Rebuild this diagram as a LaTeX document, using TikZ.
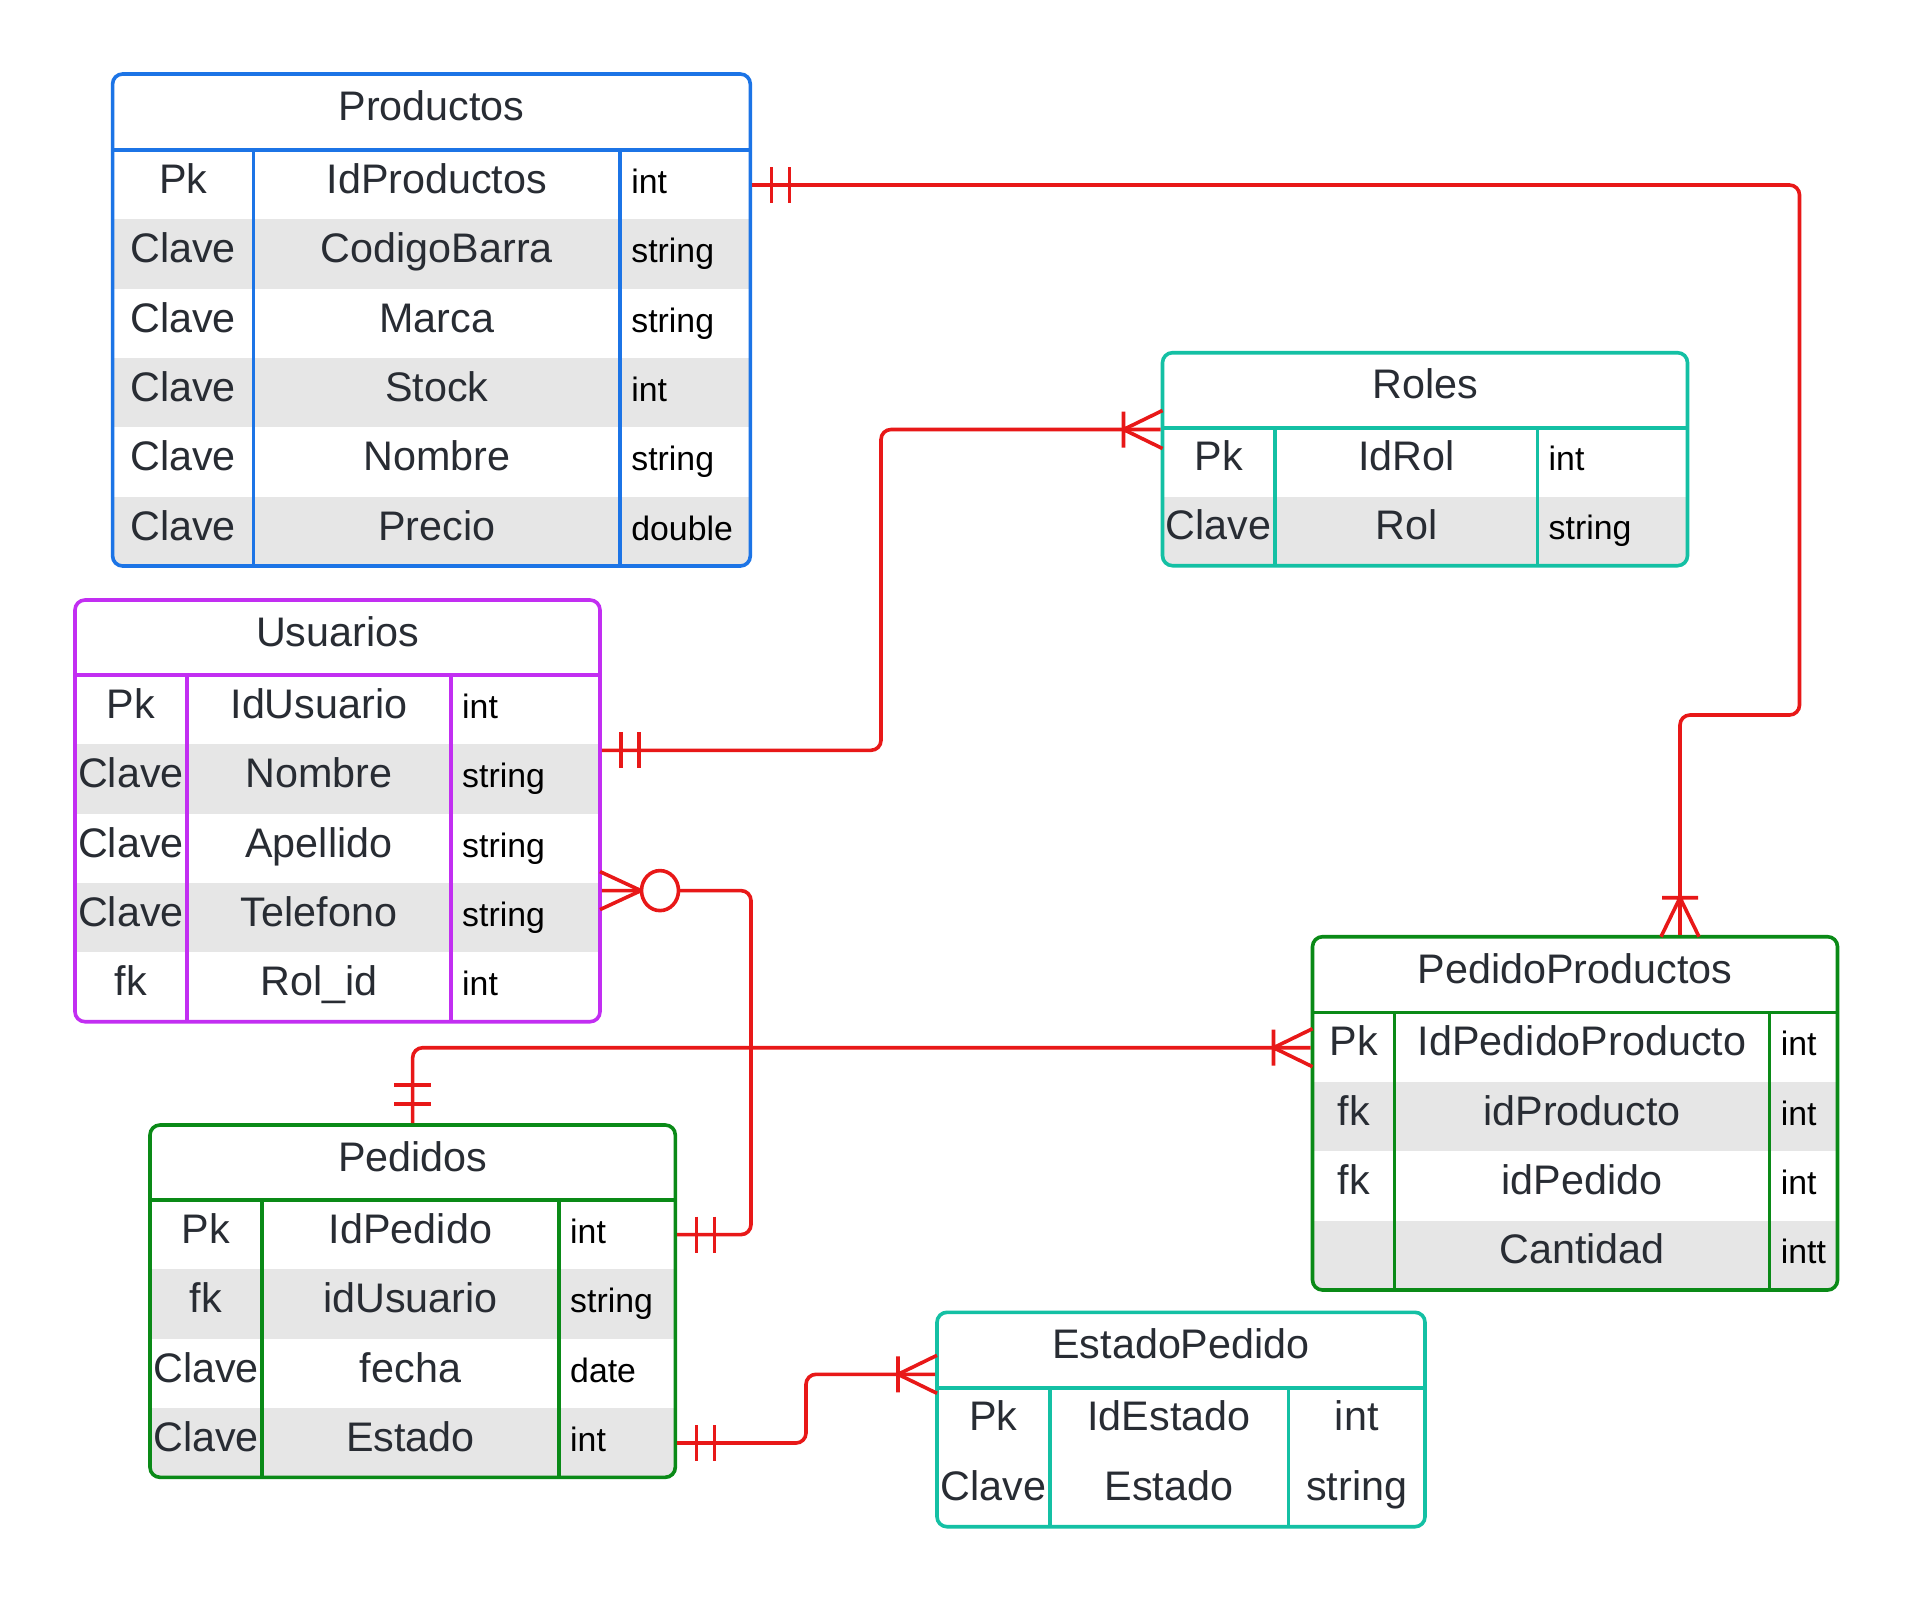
\documentclass[tikz,border=0pt]{standalone}
\usepackage{fontspec}
\setmainfont{Liberation Sans}
\usetikzlibrary{calc,fit}
\definecolor{cblue}{HTML}{1C74E6}
\definecolor{cteal}{HTML}{14C0A4}
\definecolor{cpurple}{HTML}{C22EF2}
\definecolor{cgreen}{HTML}{0A8A17}
\definecolor{cred}{HTML}{E81818}
\definecolor{rowgrey}{HTML}{E6E6E6}
\definecolor{txtgrey}{HTML}{282C33}
\tikzset{
  erbox/.style={draw=#1, line width=3.6pt, rounded corners=10pt, inner sep=0pt},
  erline/.style={draw=#1, line width=3.6pt},
  celltxt/.style={anchor=base, inner sep=0pt, text=txtgrey, font=\fontsize{41.3}{48}\selectfont},
  typetxt/.style={anchor=base west, inner sep=0pt, text=black, font=\fontsize{33.8}{40}\selectfont},
  rel/.style={draw=cred, line width=3.6pt, rounded corners=10pt},
  relmark/.style={draw=cred, line width=3.6pt},
}
\begin{document}
\begin{tikzpicture}[x=1pt,y=-1pt]
\useasboundingbox (0,0) rectangle (1913,1601);
\fill[white] (0,0) rectangle (1913,1601);

% ---------------- Productos
\begin{scope}
\clip[rounded corners=10pt] (112.6,74) rectangle (750.3,566);
\foreach \r in {2,4,6} \fill[rowgrey] (112.6,{150+(\r-1)*69.33}) rectangle (750.3,{150+\r*69.33});
\end{scope}
\draw[erline=cblue] (112.6,150) -- (750.3,150) (253.6,150) -- (253.6,566) (620.2,150) -- (620.2,566);
\node[erbox=cblue, fit={(112.6,74) (750.3,566)}] (prod) {};
\node[celltxt] (prod-title) at (431.5,120.7) {Productos};
\foreach \k/\n/\t [count=\i] in {Pk/IdProductos/int, Clave/CodigoBarra/string, Clave/Marca/string, Clave/Stock/int, Clave/Nombre/string, Clave/Precio/double}{
  \pgfmathsetmacro\yb{150+(\i-0.5)*69.33+8.7}
  \node[celltxt] (prod-k\i) at (183.1,\yb) {\k};
  \node[celltxt] (prod-n\i) at (436.9,\yb) {\n};
  \node[typetxt] (prod-y\i) at (631.2,\yb) {\t};
}

% ---------------- Roles
\begin{scope}
\clip[rounded corners=10pt] (1162.5,352.7) rectangle (1687.5,565.7);
\fill[rowgrey] (1162.5,496.7) rectangle (1687.5,565.7);
\end{scope}
\draw[erline=cteal] (1162.5,427.7) -- (1687.5,427.7) (1275,427.7) -- (1275,565.7) (1537.5,427.7) -- (1537.5,565.7);
\node[erbox=cteal, fit={(1162.5,352.7) (1687.5,565.7)}] (roles) {};
\node[celltxt] (roles-title) at (1425,398.9) {Roles};
\foreach \k/\n/\t [count=\i] in {Pk/IdRol/int, Clave/Rol/string}{
  \pgfmathsetmacro\yb{427.7+(\i-0.5)*69+8.7}
  \node[celltxt] (roles-k\i) at (1218.75,\yb) {\k};
  \node[celltxt] (roles-n\i) at (1406.25,\yb) {\n};
  \node[typetxt] (roles-y\i) at (1548.5,\yb) {\t};
}

% ---------------- Usuarios
\begin{scope}
\clip[rounded corners=10pt] (75,600) rectangle (600,1021.7);
\foreach \r in {2,4} \fill[rowgrey] (75,{675+(\r-1)*69.33}) rectangle (600,{675+\r*69.33});
\end{scope}
\draw[erline=cpurple] (75,675) -- (600,675) (186.8,675) -- (186.8,1021.7) (451,675) -- (451,1021.7);
\node[erbox=cpurple, fit={(75,600) (600,1021.7)}] (usu) {};
\node[celltxt] (usu-title) at (337.5,646.2) {Usuarios};
\foreach \k/\n/\t [count=\i] in {Pk/IdUsuario/int, Clave/Nombre/string, Clave/Apellido/string, Clave/Telefono/string, fk/Rol\_id/int}{
  \pgfmathsetmacro\yb{675+(\i-0.5)*69.33+8.7}
  \node[celltxt] (usu-k\i) at (130.9,\yb) {\k};
  \node[celltxt] (usu-n\i) at (318.9,\yb) {\n};
  \node[typetxt] (usu-y\i) at (462,\yb) {\t};
}

% ---------------- PedidoProductos
\begin{scope}
\clip[rounded corners=10pt] (1312.5,936.7) rectangle (1837.5,1290);
\foreach \r in {2,4} \fill[rowgrey] (1312.5,{1012.3+(\r-1)*69.42}) rectangle (1837.5,{1012.3+\r*69.42});
\end{scope}
\draw[erline=cgreen] (1312.5,1012.3) -- (1837.5,1012.3) (1394.6,1012.3) -- (1394.6,1290) (1769.6,1012.3) -- (1769.6,1290);
\node[erbox=cgreen, fit={(1312.5,936.7) (1837.5,1290)}] (pp) {};
\node[celltxt] (pp-title) at (1575,983.2) {PedidoProductos};
\foreach \k/\n/\t [count=\i] in {Pk/IdPedidoProducto/int, fk/idProducto/int, fk/idPedido/int, {}/Cantidad/intt}{
  \pgfmathsetmacro\yb{1012.3+(\i-0.5)*69.42+8.7}
  \node[celltxt] (pp-k\i) at (1353.6,\yb) {\k};
  \node[celltxt] (pp-n\i) at (1582.1,\yb) {\n};
  \node[typetxt] (pp-y\i) at (1780.6,\yb) {\t};
}

% ---------------- Pedidos
\begin{scope}
\clip[rounded corners=10pt] (150,1125) rectangle (675.3,1477.3);
\foreach \r in {2,4} \fill[rowgrey] (150,{1200+(\r-1)*69.33}) rectangle (675.3,{1200+\r*69.33});
\end{scope}
\draw[erline=cgreen] (150,1200) -- (675.3,1200) (262,1200) -- (262,1477.3) (559,1200) -- (559,1477.3);
\node[erbox=cgreen, fit={(150,1125) (675.3,1477.3)}] (ped) {};
\node[celltxt] (ped-title) at (412.65,1171.2) {Pedidos};
\foreach \k/\n/\t [count=\i] in {Pk/IdPedido/int, fk/idUsuario/string, Clave/fecha/date, Clave/Estado/int}{
  \pgfmathsetmacro\yb{1200+(\i-0.5)*69.33+8.7}
  \node[celltxt] (ped-k\i) at (206,\yb) {\k};
  \node[celltxt] (ped-n\i) at (410.5,\yb) {\n};
  \node[typetxt] (ped-y\i) at (570,\yb) {\t};
}

% ---------------- EstadoPedido
\draw[erline=cteal] (937,1387.7) -- (1425,1387.7) (1049.8,1387.7) -- (1049.8,1526.7) (1288.3,1387.7) -- (1288.3,1526.7);
\node[erbox=cteal, fit={(937,1312.3) (1425,1526.7)}] (est) {};
\node[celltxt] (est-title) at (1181,1358.7) {EstadoPedido};
\foreach \k/\n/\t [count=\i] in {Pk/IdEstado/int, Clave/Estado/string}{
  \pgfmathsetmacro\yb{1387.7+(\i-0.5)*69.5+8.5}
  \node[celltxt] (est-k\i) at (993.4,\yb) {\k};
  \node[celltxt] (est-n\i) at (1169,\yb) {\n};
  \node[celltxt] (est-y\i) at (1356.7,\yb) {\t};
}

% ---------------- Connectors
% Productos -> PedidoProductos
\draw[rel] (prod.east |- 0,185) -- (1799.5,185) -- (1799.5,715) -- (1680,715) -- (pp.north -| 1680,0);
\draw[relmark] (771.3,167) -- (771.3,203) (789.3,167) -- (789.3,203);
\draw[relmark] (1661,936.7) -- (1680,897.7) -- (1699,936.7) (1662,897.7) -- (1698,897.7);

% Usuarios -> Roles
\draw[rel] (usu.east |- 0,750.3) -- (881,750.3) -- (881,429.5) -- (roles.west |- 0,429.5);
\draw[relmark] (621,732.3) -- (621,768.3) (639,732.3) -- (639,768.3);
\draw[relmark] (1162.5,410.5) -- (1123.5,429.5) -- (1162.5,448.5) (1123.5,411.5) -- (1123.5,447.5);

% Usuarios -> Pedidos (zero or many)
\draw[rel] (usu.east |- 0,890.6) -- (751,890.6) -- (751,1234.6) -- (ped.east |- 0,1234.6);
\draw[relmark] (600,871.6) -- (641,890.6) -- (600,909.6);
\draw[relmark, fill=white] (660,890.6) ellipse [x radius=18.5pt, y radius=20pt];
\draw[relmark] (696.3,1216.6) -- (696.3,1252.6) (714.3,1216.6) -- (714.3,1252.6);

% Pedidos -> PedidoProductos
\draw[rel] (ped.north) -- (ped.north |- 0,1047.7) -- (pp.west |- 0,1047.7);
\draw[relmark] (394.2,1085) -- (431.1,1085) (394.2,1104) -- (431.1,1104);
\draw[relmark] (1312.5,1028.7) -- (1273.5,1047.7) -- (1312.5,1066.7) (1273.5,1029.7) -- (1273.5,1065.7);

% Pedidos -> EstadoPedido
\draw[rel] (ped.east |- 0,1443) -- (806,1443) -- (806,1374.3) -- (est.west |- 0,1374.3);
\draw[relmark] (696.3,1425) -- (696.3,1461) (714.3,1425) -- (714.3,1461);
\draw[relmark] (937,1355.3) -- (898,1374.3) -- (937,1393.3) (898,1356.3) -- (898,1392.3);
\end{tikzpicture}
\end{document}
